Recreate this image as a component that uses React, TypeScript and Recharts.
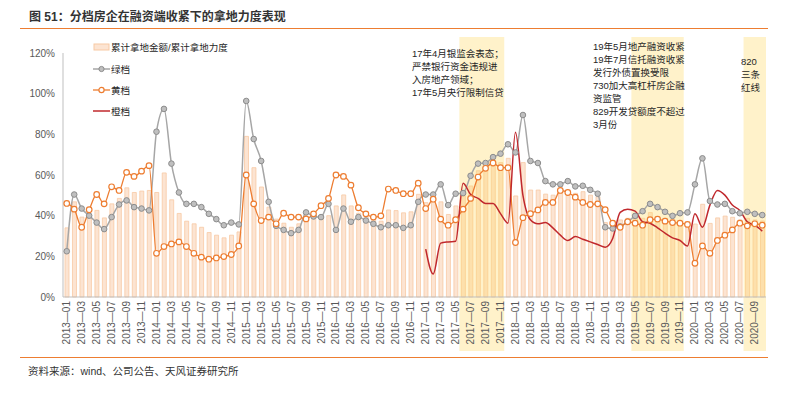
import React from 'react';
import { ComposedChart, Bar, Line, XAxis, YAxis, ReferenceArea } from 'recharts';

const FONT = "'Liberation Sans', Arial, 'Noto Sans CJK SC', sans-serif";

// 2013-01 .. 2020-10
const months = [
  '2013-01', '2013-02', '2013-03', '2013-04', '2013-05', '2013-06', '2013-07', '2013-08', '2013-09', '2013-10', '2013-11', '2013-12',
  '2014-01', '2014-02', '2014-03', '2014-04', '2014-05', '2014-06', '2014-07', '2014-08', '2014-09', '2014-10', '2014-11', '2014-12',
  '2015-01', '2015-02', '2015-03', '2015-04', '2015-05', '2015-06', '2015-07', '2015-08', '2015-09', '2015-10', '2015-11', '2015-12',
  '2016-01', '2016-02', '2016-03', '2016-04', '2016-05', '2016-06', '2016-07', '2016-08', '2016-09', '2016-10', '2016-11', '2016-12',
  '2017-01', '2017-02', '2017-03', '2017-04', '2017-05', '2017-06', '2017-07', '2017-08', '2017-09', '2017-10', '2017-11', '2017-12',
  '2018-01', '2018-02', '2018-03', '2018-04', '2018-05', '2018-06', '2018-07', '2018-08', '2018-09', '2018-10', '2018-11', '2018-12',
  '2019-01', '2019-02', '2019-03', '2019-04', '2019-05', '2019-06', '2019-07', '2019-08', '2019-09', '2019-10', '2019-11', '2019-12',
  '2020-01', '2020-02', '2020-03', '2020-04', '2020-05', '2020-06', '2020-07', '2020-08', '2020-09', '2020-10',
];

// 累计拿地金额/累计拿地力度 (%)
const landRatio = [
  34, 46.8, 39.3, 40.3, 42.6, 38.9, 45.8, 48.5, 53.7, 51.4, 52.1, 52.4,
  51.4, 61, 47.8, 41.1, 37.3, 36, 34.3, 31.7, 30.4, 29.1, 30.4, 32,
  79, 63.6, 54.1, 44.2, 38.3, 36.3, 34.3, 36, 39, 39, 39, 40,
  44.8, 50.2, 44.8, 41.2, 39.8, 38.6, 37.3, 42.8, 42.5, 41.4, 41.9, 50.5,
  46.4, 48.5, 46.8, 40.6, 44.8, 49.7, 54.6, 62.1, 64.1, 65.4, 66.1, 68.2,
  49.7, 66.1, 52.6, 52.6, 50.6, 50.1, 52.9, 52.3, 51, 51.8, 50.1, 49.3,
  36.6, 37.6, 37.9, 38.7, 39.5, 38.7, 41.5, 39.5, 38.7, 38.2, 37, 37,
  35.9, 45.6, 36.2, 38.9, 39.8, 39.2, 37.9, 38.7, 37.9, 37.4,
];

// 绿档
const greenTier = [
  22.5, 50.4, 43.5, 40, 36.6, 33.4, 39.3, 45.5, 47.5, 44.2, 43.5, 42.6,
  81.3, 92.5, 65.6, 51.4, 45.8, 45.8, 44.2, 40.9, 38.3, 35.3, 36.6, 35.7,
  96.4, 77.7, 66.9, 46.8, 35, 33, 31.4, 33, 41.6, 39.6, 39.3, 45.8,
  33, 43.5, 37, 39.3, 37.6, 36, 34.3, 35.3, 35.3, 34, 35.3, 46.8,
  50.4, 50.4, 55.4, 45.2, 50.8, 51.1, 59.6, 65.6, 65.9, 68.8, 70.5, 75.1,
  71.1, 89.5, 66.9, 65.9, 57, 55.4, 55.4, 57, 54.4, 54.7, 52.7, 50.8,
  34.3, 33.7, 34.7, 37, 39.9, 42.2, 45.8, 44.2, 41.9, 39.9, 41.2, 41.6,
  55.4, 68.2, 47.2, 45.5, 45.8, 42.2, 41.2, 41.9, 40.9, 40.3,
];

// 黄档
const yellowTier = [
  46, 43.2, 34.3, 42.9, 50.4, 45.8, 54.2, 52.4, 61.3, 59.3, 61.9, 64.6,
  21.5, 24.8, 26.1, 27.1, 24.8, 21.5, 19.6, 18.6, 19.2, 19.9, 20.9, 25.1,
  60, 45.8, 37.6, 39.3, 36, 41.2, 39.3, 39.3, 38.4, 40.9, 44.9, 48.5,
  60, 59.3, 55, 43.9, 40.9, 39.3, 39.9, 53.1, 52.4, 50.8, 50.8, 56,
  43.5, 48.1, 38.3, 35.3, 38, 43.2, 48.5, 59, 63.3, 65.9, 63.6, 63.6,
  26.8, 39, 41, 42.8, 46.5, 46.5, 52.4, 51.4, 49.1, 46.5, 45.5, 45.8,
  42.9, 36.3, 34.3, 37, 36.3, 35.3, 38, 38.3, 37.3, 36.6, 36.3, 35.7,
  16.6, 25.1, 21.5, 27.8, 30.4, 33, 36.3, 35, 36, 35.3,
];

// 橙档 (starts 2017-01)
const orangeTier = [
  null, null, null, null, null, null, null, null, null, null, null, null,
  null, null, null, null, null, null, null, null, null, null, null, null,
  null, null, null, null, null, null, null, null, null, null, null, null,
  null, null, null, null, null, null, null, null, null, null, null, null,
  23.5, 11.3, 26.5, 27.1, 27.4, 55.9, 50.4, 48.5, 46, 46, 41, 36.3,
  81, 50, 38, 36, 36.6, 34, 30.4, 27.8, 29.7, 28.4, 27.1, 25.8,
  24.5, 28.8, 41.6, 43.2, 42.2, 37, 36.3, 34, 31.4, 29.1, 27.8, 25.1,
  40.9, 34.3, 45.2, 52.4, 50.1, 45.2, 42.6, 37, 35.3, 32.4,
];

const yTicks = [0, 20, 40, 60, 80, 100, 120];

const shadedPeriods = [
  ['2017-06', '2017-11'],
  ['2019-05', '2019-11'],
  ['2020-08', '2020-10'],
];

const note1 = ['17年4月银监会表态；', '严禁银行资金违规进', '入房地产领域；', '17年5月央行限制信贷'];
const note2 = ['19年5月地产融资收紧', '19年7月信托融资收紧', '发行外债置换受限', '730加大高杠杆房企融', '资监管', '829开发贷额度不超过', '3月份'];
const note3 = ['820', '三条', '红线'];

const data = months.map((m, i) => ({
  month: m,
  ratio: landRatio[i],
  green: greenTier[i],
  yellow: yellowTier[i],
  orange: orangeTier[i],
}));

const MonthTick = (props: any) => {
  const { x, y, payload } = props;
  return (
    <text
      x={x}
      y={y}
      transform={`rotate(-90 ${x} ${y})`}
      textAnchor="end"
      dy="0.35em"
      fontSize={10}
      fill="#595959"
      fontFamily={FONT}
    >
      {String(payload.value).replace('-', '—')}
    </text>
  );
};

const Shade = (p: any) => (
  <rect x={p.x} y={37} width={p.width} height={314} fill="#FFD966" fillOpacity={0.35} />
);

const Note = ({ lines, left, top }: { lines: string[]; left: number; top: number }) => (
  <div style={{ position: 'absolute', left, top, fontSize: 9.5, lineHeight: '13px', color: '#262626', whiteSpace: 'nowrap' }}>
    {lines.map((l) => (
      <div key={l}>{l}</div>
    ))}
  </div>
);

const legendRow = (top: number, icon: React.ReactNode, label: string) => (
  <div key={label} style={{ position: 'absolute', left: 93, top, height: 14, display: 'flex', alignItems: 'center', fontSize: 9.5, color: '#262626' }}>
    <svg width={17} height={14} style={{ marginRight: 1 }}>{icon}</svg>
    {label}
  </div>
);

export default function App() {
  return (
    <div style={{ position: 'absolute', left: 0, top: 0, width: 790, height: 393, background: '#fff', fontFamily: FONT, overflow: 'hidden' }}>
      <div style={{ position: 'absolute', left: 29, top: 7, fontSize: 12, fontWeight: 'bold', color: '#333' }}>
        图 51：分档房企在融资端收紧下的拿地力度表现
      </div>
      <div style={{ position: 'absolute', left: 20, top: 28, width: 748, height: 0, borderTop: '1.5px solid #ED7D31' }} />

      <div style={{ position: 'absolute', left: 0, top: 0 }}>
        <ComposedChart width={790} height={393} data={data} margin={{ top: 53, right: 24, bottom: 36, left: 13 }} barSize={4}>
          <XAxis
            dataKey="month"
            interval={1}
            height={60}
            tick={<MonthTick />}
            tickLine={false}
            tickSize={4}
            tickMargin={0}
            axisLine={{ stroke: '#BFBFBF' }}
          />
          <YAxis
            width={50}
            domain={[0, 120]}
            ticks={yTicks}
            tickFormatter={(v) => `${v}%`}
            tick={{ fontSize: 10, fill: '#595959', fontFamily: FONT }}
            tickLine={false}
            axisLine={{ stroke: '#BFBFBF' }}
          />
          <Bar dataKey="ratio" fill="#FCE4D2" stroke="#F8C9A4" strokeWidth={0.8} isAnimationActive={false} />
          {shadedPeriods.map(([a, b]) => (
            <ReferenceArea key={a} x1={a} x2={b} ifOverflow="visible" shape={<Shade />} zIndex={350} />
          ))}
          <Line
            type="monotone"
            dataKey="green"
            stroke="#A6A6A6"
            strokeWidth={1.5}
            dot={{ r: 2.8, fill: '#BFBFBF', stroke: '#8C8C8C', strokeWidth: 1 }}
            isAnimationActive={false}
          />
          <Line
            type="monotone"
            dataKey="yellow"
            stroke="#ED7D31"
            strokeWidth={1.3}
            dot={{ r: 2.8, fill: '#fff', stroke: '#ED7D31', strokeWidth: 1.2 }}
            isAnimationActive={false}
          />
          <Line
            type="monotone"
            dataKey="orange"
            stroke="#C0282D"
            strokeWidth={1.5}
            dot={false}
            connectNulls={false}
            isAnimationActive={false}
          />
        </ComposedChart>
      </div>

      {legendRow(40, <rect x={1} y={4} width={15} height={6} fill="#FCE4D2" stroke="#F8C9A4" />, '累计拿地金额/累计拿地力度')}
      {legendRow(62, <g><line x1={0} x2={17} y1={7} y2={7} stroke="#A6A6A6" strokeWidth={1.5} /><circle cx={8.5} cy={7} r={2.6} fill="#BFBFBF" stroke="#8C8C8C" /></g>, '绿档')}
      {legendRow(83, <g><line x1={0} x2={17} y1={7} y2={7} stroke="#ED7D31" strokeWidth={1.3} /><circle cx={8.5} cy={7} r={2.6} fill="#fff" stroke="#ED7D31" strokeWidth={1.2} /></g>, '黄档')}
      {legendRow(104, <line x1={0} x2={17} y1={7} y2={7} stroke="#C0282D" strokeWidth={1.5} />, '橙档')}

      <Note lines={note1} left={412} top={47} />
      <Note lines={note2} left={593} top={40} />
      <Note lines={note3} left={741} top={55} />

      <div style={{ position: 'absolute', left: 20, top: 357, width: 748, height: 0, borderTop: '1.5px solid #ED7D31' }} />
      <div style={{ position: 'absolute', left: 28, top: 363, fontSize: 10.5, color: '#333' }}>
        资料来源：wind、公司公告、天风证券研究所
      </div>
    </div>
  );
}
